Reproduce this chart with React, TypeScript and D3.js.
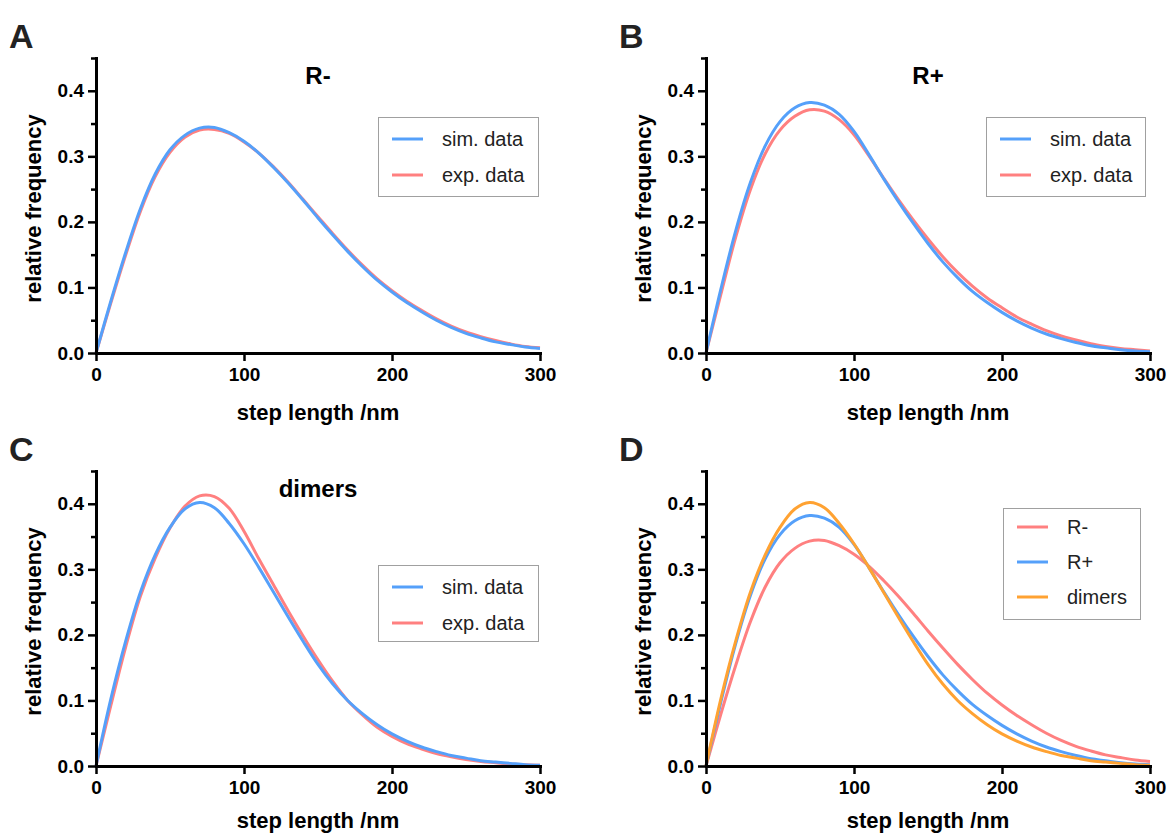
import { useEffect, useRef } from 'react';
import * as d3 from 'd3';

const stepLength = [0, 10, 20, 30, 40, 50, 60, 70, 80, 90, 100, 110, 120, 130, 140, 150, 160, 170, 180, 190, 200, 210, 220, 230, 240, 250, 260, 270, 280, 290, 300];

const rMinusSim = [0, 0.079, 0.153, 0.22, 0.273, 0.31, 0.332, 0.343, 0.344, 0.336, 0.323, 0.305, 0.283, 0.259, 0.233, 0.206, 0.18, 0.155, 0.132, 0.111, 0.093, 0.077, 0.063, 0.05, 0.039, 0.03, 0.023, 0.017, 0.013, 0.009, 0.007];
const rMinusExp = [0, 0.076, 0.149, 0.216, 0.269, 0.306, 0.329, 0.34, 0.341, 0.335, 0.322, 0.305, 0.284, 0.26, 0.234, 0.208, 0.182, 0.157, 0.134, 0.113, 0.095, 0.079, 0.065, 0.052, 0.041, 0.032, 0.025, 0.019, 0.014, 0.01, 0.008];

const rPlusSim = [0, 0.097, 0.186, 0.26, 0.316, 0.353, 0.374, 0.382, 0.378, 0.364, 0.338, 0.303, 0.266, 0.231, 0.198, 0.167, 0.139, 0.115, 0.094, 0.077, 0.062, 0.049, 0.038, 0.029, 0.022, 0.016, 0.011, 0.008, 0.005, 0.003, 0.002];
const rPlusExp = [0, 0.089, 0.176, 0.249, 0.304, 0.34, 0.361, 0.371, 0.369, 0.356, 0.333, 0.301, 0.267, 0.234, 0.203, 0.174, 0.147, 0.123, 0.102, 0.084, 0.069, 0.055, 0.044, 0.034, 0.026, 0.02, 0.014, 0.01, 0.007, 0.005, 0.003];

const dimersSim = [0, 0.102, 0.19, 0.265, 0.322, 0.364, 0.392, 0.402, 0.394, 0.37, 0.339, 0.303, 0.265, 0.227, 0.19, 0.155, 0.125, 0.1, 0.08, 0.063, 0.049, 0.038, 0.029, 0.022, 0.016, 0.012, 0.008, 0.006, 0.004, 0.002, 0.001];
const dimersExp = [0, 0.092, 0.181, 0.259, 0.317, 0.363, 0.396, 0.412, 0.411, 0.393, 0.358, 0.316, 0.276, 0.236, 0.198, 0.162, 0.129, 0.1, 0.078, 0.059, 0.045, 0.034, 0.026, 0.019, 0.014, 0.01, 0.007, 0.005, 0.003, 0.002, 0.001];

const yTicks = [0, 0.1, 0.2, 0.3, 0.4];
const yMinorTicks = [0.05, 0.15, 0.25, 0.35, 0.45];
const xTicks = [0, 100, 200, 300];

const BLUE = '#55a0fa';
const RED = '#ff8080';
const ORANGE = '#ffa232';
const FONT = '"Liberation Sans", Arial, sans-serif';

// legend order; lines are drawn in reverse so the first entry sits on top
const panels = [
  {
    letter: 'A', title: 'R-', left: 96, top: 58, xLabelGap: 67,
    legend: { x: 378, y: 117, w: 160, h: 79 },
    series: [
      { name: 'sim. data', values: rMinusSim, color: BLUE },
      { name: 'exp. data', values: rMinusExp, color: RED },
    ],
    reverse: true,
  },
  {
    letter: 'B', title: 'R+', left: 706, top: 58, xLabelGap: 67,
    legend: { x: 986, y: 117, w: 159, h: 79 },
    series: [
      { name: 'sim. data', values: rPlusSim, color: BLUE },
      { name: 'exp. data', values: rPlusExp, color: RED },
    ],
    reverse: true,
  },
  {
    letter: 'C', title: 'dimers', left: 96, top: 471, xLabelGap: 62,
    legend: { x: 378, y: 565, w: 160, h: 76 },
    series: [
      { name: 'sim. data', values: dimersSim, color: BLUE },
      { name: 'exp. data', values: dimersExp, color: RED },
    ],
    reverse: true,
  },
  {
    letter: 'D', title: '', left: 706, top: 471, xLabelGap: 62,
    legend: { x: 1003, y: 508, w: 137, h: 111 },
    series: [
      { name: 'R-', values: rMinusSim, color: RED },
      { name: 'R+', values: rPlusSim, color: BLUE },
      { name: 'dimers', values: dimersSim, color: ORANGE },
    ],
    reverse: false,
  },
];

const width = 444;
const height = 295;

const App = () => {
  const svgRef = useRef<SVGSVGElement>(null);

  useEffect(() => {
    const svg = d3.select(svgRef.current);
    svg.selectAll('*').remove();

    panels.forEach(p => {
      const g = svg.append('g').attr('transform', `translate(${p.left},${p.top})`);

      const x = d3.scaleLinear().domain([0, 300]).range([0, width]);
      const y = d3.scaleLinear().domain([0, 0.45]).range([height, 0]);

      // panel letter
      svg.append('text')
        .attr('x', p.left - 87)
        .attr('y', p.top - 10)
        .attr('font-family', FONT)
        .attr('font-size', 34)
        .attr('font-weight', 'bold')
        .attr('fill', '#222')
        .text(p.letter);

      // title
      if (p.title) {
        g.append('text')
          .attr('x', width / 2)
          .attr('y', 26)
          .attr('text-anchor', 'middle')
          .attr('font-family', FONT)
          .attr('font-size', 24)
          .attr('font-weight', 'bold')
          .text(p.title);
      }

      // curves
      const line = d3.line<number>()
        .x((_, i) => x(stepLength[i]))
        .y(d => y(d))
        .curve(d3.curveCatmullRom.alpha(0.5));

      const drawOrder = p.reverse ? [...p.series].reverse() : p.series;
      drawOrder.forEach(s => {
        g.append('path')
          .attr('d', line(s.values))
          .attr('fill', 'none')
          .attr('stroke', s.color)
          .attr('stroke-width', 3);
      });

      // minor y ticks
      g.append('g')
        .call(d3.axisLeft(y).tickValues(yMinorTicks).tickSize(5).tickSizeOuter(0).tickFormat(() => ''))
        .call(a => a.select('.domain').remove())
        .selectAll('line').attr('stroke-width', 2.5);

      // y axis
      const yAxis = g.append('g')
        .call(d3.axisLeft(y).tickValues(yTicks).tickSize(8).tickSizeOuter(0).tickPadding(4).tickFormat(d3.format('.1f')));
      yAxis.select('.domain').attr('stroke-width', 3).attr('stroke-linecap', 'square');
      yAxis.selectAll('line').attr('stroke-width', 2.5);
      yAxis.selectAll('text')
        .attr('font-family', FONT)
        .attr('font-size', 19)
        .attr('font-weight', 'bold')
        .attr('fill', '#000');

      // x axis
      const xAxis = g.append('g')
        .attr('transform', `translate(0,${height})`)
        .call(d3.axisBottom(x).tickValues(xTicks).tickSize(8).tickSizeOuter(0).tickPadding(7));
      xAxis.select('.domain').attr('stroke-width', 3).attr('stroke-linecap', 'square');
      xAxis.selectAll('line').attr('stroke-width', 2.5);
      xAxis.selectAll('text')
        .attr('font-family', FONT)
        .attr('font-size', 19)
        .attr('font-weight', 'bold')
        .attr('fill', '#000');

      // axis labels
      g.append('text')
        .attr('x', width / 2)
        .attr('y', height + p.xLabelGap)
        .attr('text-anchor', 'middle')
        .attr('font-family', FONT)
        .attr('font-size', 22)
        .attr('font-weight', 'bold')
        .text('step length /nm');

      g.append('text')
        .attr('transform', `translate(-55,${height / 2 + 3}) rotate(-90)`)
        .attr('text-anchor', 'middle')
        .attr('font-family', FONT)
        .attr('font-size', 22)
        .attr('font-weight', 'bold')
        .text('relative frequency');

      // legend
      const lg = svg.append('g').attr('transform', `translate(${p.legend.x},${p.legend.y})`);
      lg.append('rect')
        .attr('x', 0.5)
        .attr('y', 0.5)
        .attr('width', p.legend.w)
        .attr('height', p.legend.h)
        .attr('fill', '#fff')
        .attr('stroke', '#a0a0a0')
        .attr('stroke-width', 1);

      const rowGap = p.series.length === 3 ? 35 : 36;
      const firstRow = p.series.length === 3 ? 19 : 22;
      p.series.forEach((s, i) => {
        const ry = firstRow + i * rowGap;
        lg.append('line')
          .attr('x1', 14)
          .attr('x2', 45)
          .attr('y1', ry)
          .attr('y2', ry)
          .attr('stroke', s.color)
          .attr('stroke-width', 3);
        lg.append('text')
          .attr('x', 64)
          .attr('y', ry)
          .attr('dy', '0.35em')
          .attr('font-family', FONT)
          .attr('font-size', 20)
          .attr('fill', '#222')
          .text(s.name);
      });
    });
  }, []);

  return (
    <svg
      ref={svgRef}
      width={1168}
      height={835}
      style={{ position: 'absolute', left: 0, top: 0, background: '#fff' }}
    ></svg>
  );
};

export default App;
